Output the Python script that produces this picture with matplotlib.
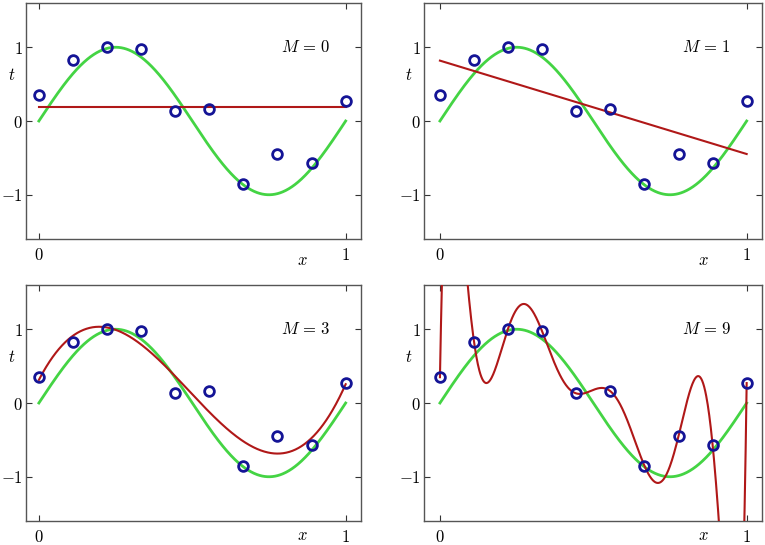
import numpy as np
import matplotlib
matplotlib.use("Agg")
import matplotlib.pyplot as plt
import matplotlib.transforms as mtransforms

plt.rcParams['mathtext.fontset'] = 'cm'
plt.rcParams['font.family'] = 'DejaVu Serif'

# data points (x_n = n/9)
x_pts = np.linspace(0, 1, 10)
t_pts = [0.35, 0.83, 1.01, 0.97, 0.13, 0.16, -0.85, -0.45, -0.565, 0.27]
orders = [0, 1, 3, 9]
x_ticks = [0, 1]
x_ticklabels = [r'$0$', r'$1$']
y_ticks = [-1, 0, 1]
y_ticklabels = [r'$-1$', r'$0$', r'$1$']

GREEN = '#44d444'
RED = '#b01818'
BLUE = '#141496'

fig = plt.figure(figsize=(7.65, 5.45), dpi=100)
W, H = 765, 545
boxes = [(26, 3, 335, -0.042), (424, 3, 338, -0.052),
         (26, 285, 335, -0.042), (424, 285, 338, -0.052)]
ah = 236

xs = np.linspace(0, 1, 600)
for i, ((lx, ty, aw, x0), M) in enumerate(zip(boxes, orders)):
    ax = fig.add_axes([lx / W, 1 - (ty + ah) / H, aw / W, ah / H])
    ax.plot(xs, np.sin(2 * np.pi * xs), color=GREEN, lw=2.0, zorder=2)
    coef = np.polyfit(x_pts, t_pts, M)
    ax.plot(xs, np.polyval(coef, xs), color=RED, lw=1.5, zorder=3)
    ax.plot(x_pts, t_pts, 'o', mfc='none', mec=BLUE, mew=2.0, ms=7, zorder=4)
    ax.set_xlim(x0, 1.05)
    ax.set_ylim(-1.6, 1.6)
    ax.set_xticks(x_ticks)
    ax.set_xticklabels(x_ticklabels, fontsize=12)
    ax.set_yticks(y_ticks)
    ax.set_yticklabels(y_ticklabels, fontsize=12)
    ax.tick_params(direction='in', length=4, width=0.8, top=True, right=True,
                   color='#333333', pad=6)
    ax.tick_params(axis='y', pad=2.5)
    for s in ax.spines.values():
        s.set_color('#555555')
        s.set_linewidth(1.0)
    ax.text(0.87, 1.0, r'$M\,=\,%d$' % M, fontsize=12, ha='center', va='center')
    tr = mtransforms.blended_transform_factory(ax.transAxes, ax.transData)
    ax.text(-0.044, 0.62, r'$t$', fontsize=12, ha='center', va='center', transform=tr)
    tr2 = mtransforms.blended_transform_factory(ax.transData, ax.transAxes)
    ypos = -0.09 if i < 2 else -0.062
    ax.text(0.86, ypos, r'$x$', fontsize=12, ha='center', va='center', transform=tr2,
            clip_on=False)

fig.savefig('out.png', dpi=100)
